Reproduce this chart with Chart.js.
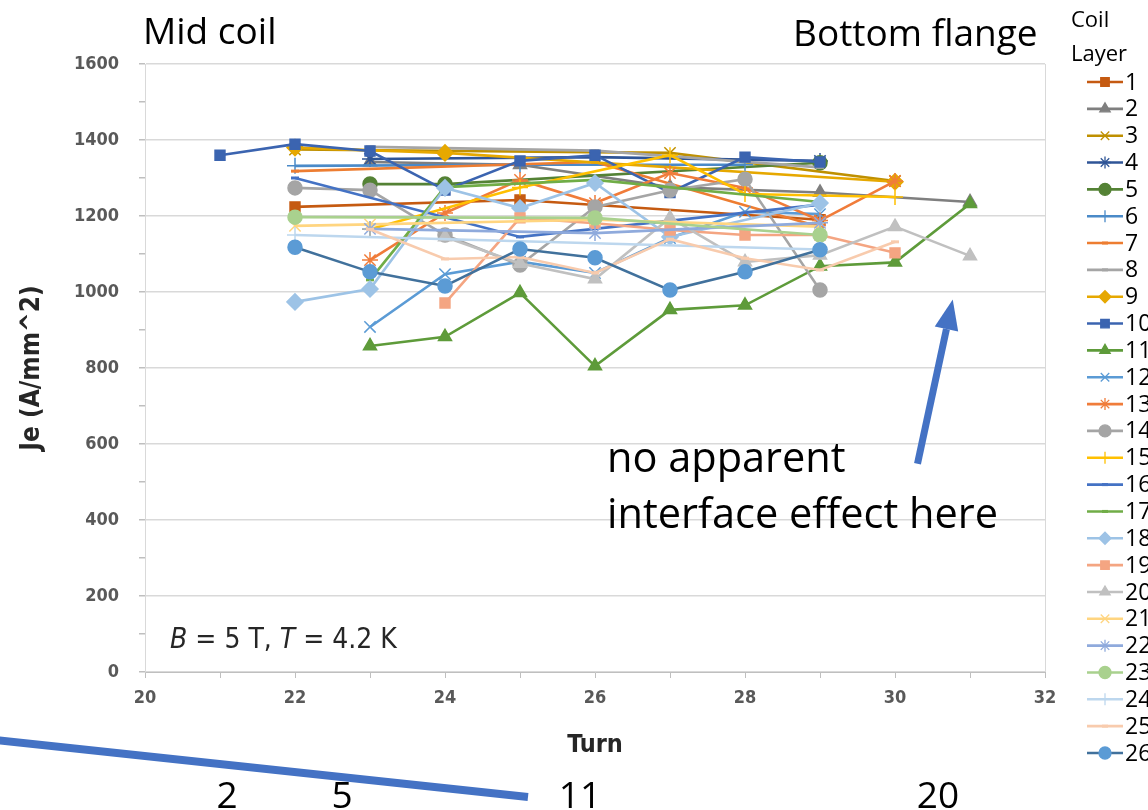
<!DOCTYPE html>
<html>
<head>
<meta charset="utf-8">
<script src="https://cdn.jsdelivr.net/npm/chart.js@4/dist/chart.umd.min.js"></script>
<style>
  body { margin: 0; background: #fff; }
  #wrap { width: 1148px; height: 810px; }
</style>
</head>
<body>
<div id="wrap"><canvas id="jeChart" width="1148" height="810"></canvas></div>
<script>
// Turn numbers (x values) and Je per coil layer, null = no measurement
const turns = [21, 22, 23, 24, 25, 26, 27, 28, 29, 30, 31];

const layer1  = [null, 1224, null, null, 1242, null, null, null, 1190, null, null];
const layer2  = [null, null, 1342, null, 1335, null, 1276, null, 1262, null, 1237];
const layer3  = [null, 1375, null, null, null, null, 1366, null, null, 1292, null];
const layer4  = [null, null, 1350, null, null, 1355, null, null, 1345, null, null];
const layer5  = [null, null, 1284, 1284, null, null, null, null, 1340, null, null];
const layer6  = [null, 1332, null, null, 1335, null, null, 1335, null, null, null];
const layer7  = [null, 1318, null, null, null, 1342, null, null, 1171, null, null];
const layer8  = [null, null, 1382, null, null, 1372, null, null, 1328, null, null];
const layer9  = [null, 1380, null, 1366, null, null, null, null, null, 1290, null];
const layer10 = [1360, 1389, 1371, 1268, 1345, 1360, 1262, 1355, 1342, null, null];
const layer11 = [null, null, 858, 882, 998, 805, 953, 965, 1068, 1078, 1232];
const layer12 = [null, null, 908, 1047, 1080, 1050, 1142, 1211, 1205, null, null];
const layer13 = [null, null, 1084, 1208, 1295, 1234, 1313, 1274, 1188, 1292, null];
const layer14 = [null, 1274, 1268, 1150, 1071, 1224, 1268, 1297, 1005, null, null];
const layer15 = [null, null, 1165, null, 1275, null, 1360, 1258, null, 1250, null];
const layer16 = [null, 1300, null, null, 1145, null, null, null, 1230, null, null];
const layer17 = [null, null, 1032, 1276, null, 1295, null, null, 1237, null, null];
const layer18 = [null, 974, 1008, 1274, 1221, 1287, 1145, null, 1234, null, null];
const layer19 = [null, null, null, 971, 1195, 1181, 1163, 1150, 1150, 1103, null];
const layer20 = [null, null, null, 1145, 1075, 1034, 1195, 1079, 1097, 1172, 1095];
const layer21 = [null, 1174, 1178, null, null, 1190, null, null, 1172, null, null];
const layer22 = [null, null, 1166, null, null, 1155, null, null, 1182, null, null];
const layer23 = [null, 1197, null, null, null, 1195, null, null, 1150, null, null];
const layer24 = [null, 1150, null, null, null, null, null, null, 1112, null, null];
const layer25 = [null, null, 1165, 1087, 1092, 1050, 1139, 1089, 1058, 1132, null];
const layer26 = [null, 1118, 1053, 1016, 1113, 1090, 1005, 1053, 1111, null, null];

const layers = [layer1, layer2, layer3, layer4, layer5, layer6, layer7, layer8, layer9, layer10,
  layer11, layer12, layer13, layer14, layer15, layer16, layer17, layer18, layer19, layer20,
  layer21, layer22, layer23, layer24, layer25, layer26];
const layerNames = layers.map((_, i) => String(i + 1));

// Excel-like series styling
const lineColors = ['#C55A11', '#7F7F7F', '#BF9000', '#2F5597', '#548235', '#4A8AC8', '#ED7D31', '#A5A5A5',
  '#E6A800', '#3B64B0', '#5E9B3A', '#5B9BD5', '#F07C3A', '#A5A5A5', '#FFC000', '#4472C4', '#70AD47',
  '#9DC3E6', '#F4A582', '#C0C0C0', '#FFD580', '#8FAADC', '#A9D18E', '#BDD7EE', '#F8CBAD', '#41719C'];
const markerColors = lineColors.map((c, i) => i === 25 ? '#5B9BD5' : c);
const markers = ['rect', 'triangle', 'crossRot', 'star', 'circle', 'cross', 'line', 'line', 'rectRot', 'rect',
  'triangle', 'crossRot', 'star', 'circle', 'cross', 'line', 'line', 'rectRot', 'rect', 'triangle',
  'crossRot', 'star', 'circle', 'cross', 'line', 'circle'];
const markerSize = { rect: 7, triangle: 7.5, crossRot: 8, star: 8, circle: 7, cross: 8, line: 4, rectRot: 8 };

const datasets = layers.map((vals, i) => ({
  label: layerNames[i],
  data: turns.map((t, k) => vals[k] == null ? null : { x: t, y: vals[k] }).filter(p => p),
  borderColor: lineColors[i],
  backgroundColor: markerColors[i],
  pointBackgroundColor: markerColors[i],
  pointBorderColor: markerColors[i],
  pointStyle: markers[i],
  pointRadius: markerSize[markers[i]],
  pointBorderWidth: markers[i] === 'line' ? 3 : 1.5,
  borderWidth: 2.6,
  tension: 0,
  order: 26 - i
}));

const blue = '#4472C4';
const textFont = "'Open Sans', 'DejaVu Sans', sans-serif";
const axisFont = "'DejaVu Sans Condensed', 'Liberation Sans Narrow', 'Liberation Sans', sans-serif";

// legend on the right, Excel style (line with marker)
const legendPlugin = {
  id: 'coilLegend',
  afterDraw(chart) {
    const ctx = chart.ctx;
    ctx.save();
    ctx.fillStyle = '#000';
    ctx.font = "22px " + textFont;
    ctx.textBaseline = 'alphabetic';
    ctx.textAlign = 'left';
    ctx.fillText('Coil', 1071, 27);
    ctx.fillText('Layer', 1071, 61);
    chart.data.datasets.forEach((ds, i) => {
      const y = 82 + i * 26.84;
      ctx.strokeStyle = ds.borderColor;
      ctx.lineWidth = 2.6;
      ctx.beginPath();
      ctx.moveTo(1087, y);
      ctx.lineTo(1123, y);
      ctx.stroke();
      ctx.fillStyle = ds.pointBackgroundColor;
      ctx.strokeStyle = ds.pointBorderColor;
      ctx.lineWidth = ds.pointStyle === 'line' ? 3 : 1.3;
      const r = ds.pointStyle === 'line' ? 3 : Math.min(ds.pointRadius, 6);
      Chart.helpers.drawPoint(ctx, { pointStyle: ds.pointStyle, radius: r, borderWidth: ctx.lineWidth, rotation: 0 }, 1105, y);
      ctx.fillStyle = '#000';
      ctx.font = "23px " + textFont;
      ctx.textBaseline = 'middle';
      ctx.fillText(ds.label, 1125, y + 1);
    });
    ctx.restore();
  }
};

// text notes, arrow and the extra lines around the plot
const notesPlugin = {
  id: 'notes',
  afterDraw(chart) {
    const ctx = chart.ctx;
    const xs = chart.scales.x, ys = chart.scales.y;
    const area = chart.chartArea;
    ctx.save();

    // right border of plot area
    ctx.strokeStyle = '#D9D9D9';
    ctx.lineWidth = 1;
    ctx.beginPath();
    ctx.moveTo(area.right + 0.5, area.top);
    ctx.lineTo(area.right + 0.5, area.bottom);
    ctx.stroke();

    ctx.fillStyle = '#000';
    ctx.textBaseline = 'alphabetic';
    ctx.font = "37px " + textFont;
    ctx.fillText('Mid coil', 143, 44);
    ctx.fillText('Bottom flange', 793, 46);

    ctx.font = "41.5px " + textFont;
    ctx.fillText('no apparent', 607, 472);
    ctx.fillText('interface effect here', 607, 528);

    // B = 5 T, T = 4.2 K
    let x = 170;
    const parts = [['B', true], [' = 5 T, ', false], ['T', true], [' = 4.2 K', false]];
    ctx.fillStyle = '#262626';
    parts.forEach(([s, it]) => {
      ctx.font = (it ? 'italic ' : '') + "28px " + axisFont;
      ctx.fillText(s, x, 648);
      x += ctx.measureText(s).width;
    });

    // arrow pointing at the turn-31 region
    const x0 = xs.getPixelForValue(30.3), y0 = ys.getPixelForValue(548);
    const x1 = xs.getPixelForValue(30.77), y1 = ys.getPixelForValue(980);
    const ang = Math.atan2(y1 - y0, x1 - x0);
    const headLen = 30, headW = 12;
    const bx = x1 - headLen * Math.cos(ang), by = y1 - headLen * Math.sin(ang);
    ctx.strokeStyle = blue;
    ctx.fillStyle = blue;
    ctx.lineWidth = 7;
    ctx.beginPath();
    ctx.moveTo(x0, y0);
    ctx.lineTo(bx, by);
    ctx.stroke();
    ctx.beginPath();
    ctx.moveTo(x1, y1);
    ctx.lineTo(bx + headW * Math.sin(ang), by - headW * Math.cos(ang));
    ctx.lineTo(bx - headW * Math.sin(ang), by + headW * Math.cos(ang));
    ctx.closePath();
    ctx.fill();

    // bottom slanted line and numbers
    ctx.lineWidth = 8;
    ctx.beginPath();
    ctx.moveTo(-5, 740);
    ctx.lineTo(528, 797);
    ctx.stroke();

    ctx.fillStyle = '#000';
    ctx.font = "37px " + textFont;
    ctx.textAlign = 'center';
    [['2', 227], ['5', 342], ['11', 580], ['20', 938]].forEach(([s, cx]) => ctx.fillText(s, cx, 808));
    ctx.restore();
  }
};

const tickFont = { family: axisFont, size: 18, weight: 'bold' };
const titleFont = { family: axisFont, size: 25, weight: 'bold' };

new Chart(document.getElementById('jeChart').getContext('2d'), {
  type: 'line',
  data: { datasets: datasets },
  options: {
    responsive: false,
    animation: false,
    spanGaps: true,
    layout: { padding: { left: 0, right: 103, top: 64, bottom: 0 } },
    plugins: {
      legend: { display: false },
      tooltip: { enabled: false }
    },
    scales: {
      x: {
        type: 'linear',
        min: 20,
        max: 32,
        afterFit: s => { s.height = 138; },
        ticks: {
          stepSize: 1,
          autoSkip: false,
          maxRotation: 0,
          color: '#595959',
          font: tickFont,
          padding: 10,
          callback: v => (v % 2 === 0 ? v : '')
        },
        grid: { drawOnChartArea: false, tickLength: 6, tickColor: '#BFBFBF' },
        border: { color: '#BFBFBF' },
        title: {
          display: true,
          text: 'Turn',
          color: '#262626',
          font: titleFont,
          padding: { top: 0, bottom: 50 }
        }
      },
      y: {
        min: 0,
        max: 1600,
        afterFit: s => { s.width = 145; },
        ticks: {
          stepSize: 100,
          color: '#595959',
          font: tickFont,
          padding: 20,
          callback: v => (v % 200 === 0 ? v : '')
        },
        grid: {
          color: c => (c.tick && c.tick.value % 200 === 0 ? '#D9D9D9' : 'rgba(0,0,0,0)'),
          tickColor: '#BFBFBF',
          tickLength: 6,
          lineWidth: 1.5
        },
        border: { color: '#D9D9D9' },
        title: {
          display: true,
          text: 'Je (A/mm^2)',
          color: '#262626',
          font: { family: axisFont, size: 26, weight: 'bold' },
          padding: { top: 17, bottom: 0 }
        }
      }
    }
  },
  plugins: [legendPlugin, notesPlugin]
});
</script>
</body>
</html>
